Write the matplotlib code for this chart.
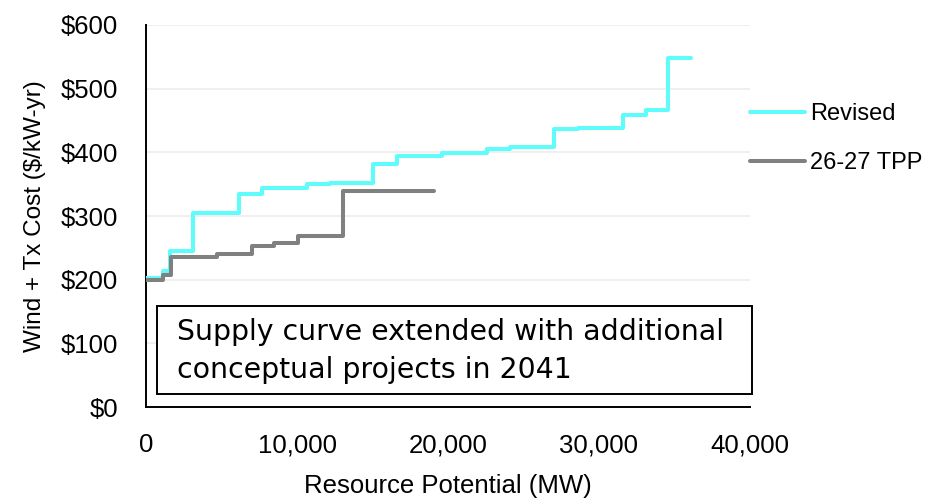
import matplotlib
matplotlib.use('Agg')
import matplotlib.pyplot as plt
from matplotlib.ticker import FuncFormatter

# Supply curve steps: step start (MW) and cost ($/kW-yr); last point closes the final step
revised_mw = [0, 1100, 1600, 3130, 6160, 7660, 10640, 12180, 15050, 16600,
              19580, 22600, 24100, 27030, 28620, 31560, 33100, 34600, 36100]
revised_cost = [203, 214, 245, 304, 335, 344, 350, 352, 381, 395,
                399, 406, 408, 437, 439, 458, 466, 548, 548]

tpp_mw = [0, 1150, 1650, 4680, 7000, 8490, 10040, 13060, 19100]
tpp_cost = [199, 208, 235, 240, 253, 257, 268, 339, 339]

series_labels = ['Revised', '26-27 TPP']
x_ticks = [0, 10000, 20000, 30000, 40000]
y_ticks = [0, 100, 200, 300, 400, 500, 600]
note_lines = ['Supply curve extended with additional',
              'conceptual projects in 2041']

plt.rcParams['font.family'] = ['Liberation Sans', 'DejaVu Sans']

fig = plt.figure(figsize=(9.35, 4.98), dpi=100)
ax = fig.add_axes([146 / 935, 91 / 498, 604 / 935, 382 / 498])

CYAN = '#5ffcfc'
GRAY = '#808080'

ax.plot(revised_mw, revised_cost, drawstyle='steps-post', color=CYAN,
        linewidth=2.9, label=series_labels[0], solid_capstyle='round', zorder=3)
ax.plot(tpp_mw, tpp_cost, drawstyle='steps-post', color=GRAY,
        linewidth=2.9, label=series_labels[1], solid_capstyle='round', zorder=3)

ax.set_xlim(0, 40000)
ax.set_ylim(0, 600)
ax.set_xticks(x_ticks)
ax.set_yticks(y_ticks)
ax.xaxis.set_major_formatter(FuncFormatter(lambda v, p: '{:,.0f}'.format(v)))
ax.yaxis.set_major_formatter(FuncFormatter(lambda v, p: '${:.0f}'.format(v)))
ax.tick_params(axis='both', length=0, labelsize=18.5, colors='black')
ax.tick_params(axis='x', pad=19)
ax.tick_params(axis='y', pad=20)

# Light horizontal gridlines above zero
for y in y_ticks[1:]:
  ax.axhline(y, color='#eeeeee', linewidth=1.3, zorder=0)

for side in ['top', 'right']:
  ax.spines[side].set_visible(False)
ax.spines['left'].set_linewidth(1.4)
ax.spines['bottom'].set_linewidth(1.4)

ax.set_xlabel('Resource Potential (MW)', fontsize=18.5, va='top')
ax.xaxis.set_label_coords(0.5, -0.175)
ax.set_ylabel('Wind + Tx Cost ($/kW-yr)', fontsize=17.5)
ax.yaxis.set_label_coords(-0.165, 0.5)

ax.legend(loc='upper left', bbox_to_anchor=(1.0, 0.795), frameon=False,
          fontsize=17, handlelength=2.35, handletextpad=0.2,
          labelspacing=1.15, borderaxespad=0, borderpad=0)

# Annotation box with two text lines, sized to span the box width
box = plt.Rectangle((0.018, 0.034), 0.985, 0.230, transform=ax.transAxes,
                    facecolor='white', edgecolor='black', linewidth=1.4,
                    zorder=4, clip_on=False)
ax.add_patch(box)
note_size = 19
t1 = ax.text(0.0513, 0.175, note_lines[0], transform=ax.transAxes,
             fontsize=note_size, family=['DejaVu Sans'], va='baseline',
             ha='left', zorder=5)
fig.canvas.draw()
w = t1.get_window_extent().width
note_size = note_size * 548 / w
t1.set_fontsize(note_size)
ax.text(0.0513, 0.076, note_lines[1], transform=ax.transAxes,
        fontsize=note_size, family=['DejaVu Sans'], va='baseline',
        ha='left', zorder=5)

fig.savefig('out.png', dpi=100)
